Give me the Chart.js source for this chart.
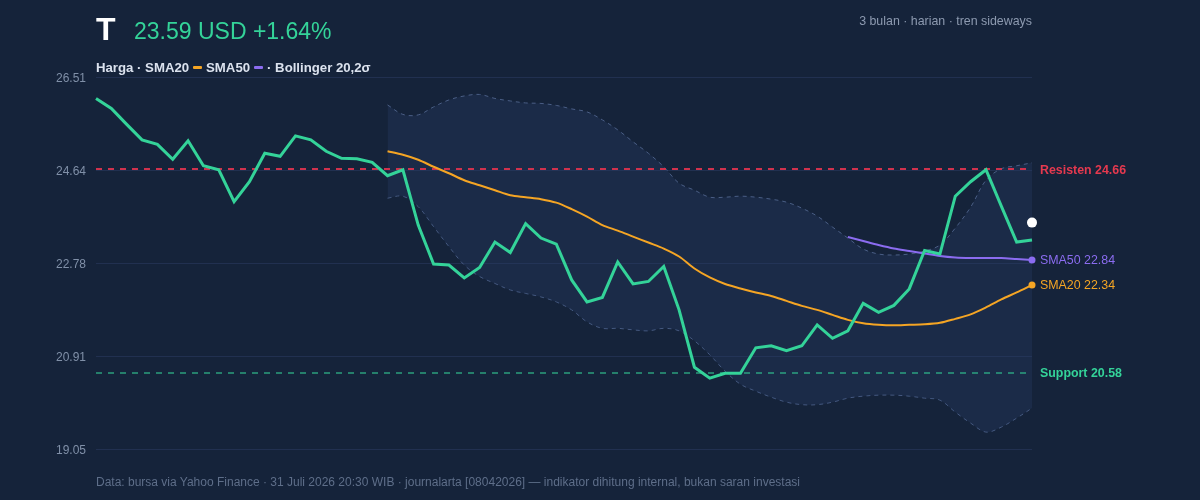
<!DOCTYPE html>
<html>
<head>
<meta charset="utf-8">
<script src="https://cdn.jsdelivr.net/npm/chart.js@4.4.1/dist/chart.umd.min.js"></script>
<style>
  html, body { margin: 0; padding: 0; background: #15233a; }
  body { width: 1200px; height: 500px; position: relative; overflow: hidden;
         font-family: "Liberation Sans", Arial, sans-serif; }
  #wrap { position: absolute; left: 0; top: 0; width: 1200px; height: 500px; }
  .abs { position: absolute; white-space: nowrap; line-height: 1; }
  #ticker { left: 96px; top: 13px; font-size: 32px; font-weight: bold; color: #ffffff; }
  #price { left: 134px; top: 20px; font-size: 23px; color: #34d399; }
  #sub { right: 168px; top: 15px; font-size: 12.4px; color: #8d9ab0; }
  #legend { left: 96px; top: 61px; font-size: 13.2px; font-weight: bold; color: #dbe2ee; }
  #legend .sw { display: inline-block; width: 9px; height: 3px; vertical-align: middle;
                margin: 0 4px 2px 4px; border-radius: 1px; }
  #foot { left: 96px; top: 476px; font-size: 12px; color: #5e6e89; }
</style>
</head>
<body>
<div id="wrap"><canvas id="chart" width="1200" height="500"></canvas></div>
<div class="abs" id="ticker">T</div>
<div class="abs" id="price">23.59 USD +1.64%</div>
<div class="abs" id="sub">3 bulan · harian · tren sideways</div>
<div class="abs" id="legend">Harga · SMA20<span class="sw" style="background:#f5a524"></span>SMA50<span class="sw" style="background:#8b6cf0"></span>· Bollinger 20,2σ</div>
<div class="abs" id="foot">Data: bursa via Yahoo Finance · 31 Juli 2026 20:30 WIB · journalarta [08042026] — indikator dihitung internal, bukan saran investasi</div>
<script>
// daily closes, 62 sessions
const PRICE = [
  26.08, 25.88, 25.56, 25.25, 25.16, 24.86, 25.23, 24.73, 24.65, 24.01,
  24.41, 24.98, 24.92, 25.33, 25.25, 25.02, 24.88, 24.87, 24.80, 24.53,
  24.65, 23.54, 22.76, 22.74, 22.48, 22.69, 23.20, 22.99, 23.57, 23.28,
  23.16, 22.44, 22.00, 22.09, 22.80, 22.36, 22.41, 22.71, 21.84, 20.69,
  20.47, 20.57, 20.57, 21.08, 21.12, 21.02, 21.12, 21.54, 21.27, 21.42,
  21.97, 21.79, 21.93, 22.26, 23.03, 22.96, 24.12, 24.41, 24.65, 23.92,
  23.20, 23.24
];

// SMA20 from session 19
const SMA20 = [
  25.02, 24.95, 24.85, 24.71, 24.58, 24.44, 24.34, 24.24, 24.14, 24.10,
  24.06, 23.99, 23.86, 23.71, 23.54, 23.43, 23.31, 23.19, 23.07, 22.91,
  22.67, 22.49, 22.36, 22.27, 22.19, 22.12, 22.02, 21.92, 21.84, 21.74,
  21.64, 21.57, 21.54, 21.53, 21.54, 21.55, 21.58, 21.66, 21.75, 21.89,
  22.05, 22.19, 22.34
];

// SMA50 from session 49
const SMA50 = [
  23.30, 23.22, 23.14, 23.07, 23.02, 22.97, 22.92, 22.89, 22.88, 22.88,
  22.88, 22.86, 22.84
];

// Bollinger 20,2 bands from session 19
const BB_UPPER = [
  25.95, 25.76, 25.75, 25.91, 26.05, 26.13, 26.16, 26.08, 26.03, 25.99,
  25.98, 25.94, 25.87, 25.81, 25.65, 25.45, 25.21, 24.98, 24.71, 24.38,
  24.24, 24.10, 24.10, 24.12, 24.10, 24.06, 24.00, 23.88, 23.72, 23.50,
  23.28, 23.06, 22.96, 22.94, 22.96, 23.02, 23.14, 23.48, 23.90, 24.44,
  24.67, 24.73, 24.79
];
const BB_LOWER = [
  24.08, 24.12, 23.91, 23.51, 23.11, 22.74, 22.51, 22.37, 22.24, 22.17,
  22.10, 22.00, 21.84, 21.60, 21.47, 21.47, 21.44, 21.42, 21.47, 21.42,
  21.22, 20.94, 20.61, 20.35, 20.21, 20.09, 19.99, 19.94, 19.94, 19.99,
  20.07, 20.11, 20.13, 20.13, 20.11, 20.07, 20.03, 19.79, 19.57, 19.39,
  19.49, 19.67, 19.87
];

const LAST_PRICE = 23.59;
const RESISTANCE = 24.66;
const SUPPORT = 20.58;

const Y_MIN = 19.05;
const Y_MAX = 26.51;
const TICK_VALUES = [19.05, 20.915, 22.78, 24.645, 26.51];
const TICK_LABELS = ["19.05", "20.91", "22.78", "24.64", "26.51"];

const C_PRICE = "#34d399";
const C_SMA20 = "#f5a524";
const C_SMA50 = "#8b6cf0";
const C_RES = "#e5394f";
const C_BAND = "#4b5f86";

const n = PRICE.length;
const labels = PRICE.map((_, i) => i);
const pad = (arr) => Array(n - arr.length).fill(null).concat(arr);
const lastOnly = (v) => Array(n - 1).fill(null).concat([v]);
const endDot = (r) => (ctx) => (ctx.dataIndex === n - 1 ? r : 0);

// dataset index of the upper band; reference lines go right after it (above the fill)
const BAND_IDX = 4;

const refLines = {
  id: "refLines",
  afterDatasetDraw(chart, args) {
    if (args.index !== BAND_IDX) return;
    const { ctx, chartArea: a, scales: { y } } = chart;
    const lines = [
      [RESISTANCE, "#d0324d", 2],
      [SUPPORT, "rgba(52,211,153,0.7)", 1.5],
    ];
    ctx.save();
    ctx.setLineDash([6, 6]);
    for (const [v, col, w] of lines) {
      const py = Math.round(y.getPixelForValue(v));
      ctx.lineWidth = w;
      ctx.strokeStyle = col;
      ctx.beginPath();
      ctx.moveTo(a.left, py);
      ctx.lineTo(a.right, py);
      ctx.stroke();
    }
    ctx.restore();
  },
  afterDraw(chart) {
    const { ctx, chartArea: a, scales: { y } } = chart;
    const tags = [
      ["Resisten " + RESISTANCE.toFixed(2), RESISTANCE, C_RES, true],
      ["SMA50 " + SMA50[SMA50.length - 1].toFixed(2), SMA50[SMA50.length - 1], C_SMA50, false],
      ["SMA20 " + SMA20[SMA20.length - 1].toFixed(2), SMA20[SMA20.length - 1], C_SMA20, false],
      ["Support " + SUPPORT.toFixed(2), SUPPORT, C_PRICE, true],
    ];
    ctx.save();
    ctx.textBaseline = "middle";
    ctx.textAlign = "left";
    for (const [t, v, col, bold] of tags) {
      ctx.font = (bold ? "bold " : "") + '12.4px "Liberation Sans", Arial, sans-serif';
      ctx.fillStyle = col;
      ctx.fillText(t, a.right + 8, y.getPixelForValue(v) + 1);
    }
    ctx.restore();
  },
};

new Chart(document.getElementById("chart"), {
  type: "line",
  data: {
    labels,
    datasets: [
      {
        label: "last",
        data: lastOnly(LAST_PRICE),
        showLine: false,
        pointRadius: 5,
        pointBackgroundColor: "#ffffff",
        pointBorderWidth: 0,
      },
      {
        label: "Harga",
        data: PRICE,
        borderColor: C_PRICE,
        borderWidth: 3,
        pointRadius: 0,
        tension: 0,
      },
      {
        label: "SMA50",
        data: pad(SMA50),
        borderColor: C_SMA50,
        borderWidth: 2,
        pointRadius: endDot(3.5),
        pointBackgroundColor: C_SMA50,
        pointBorderWidth: 0,
        tension: 0.3,
      },
      {
        label: "SMA20",
        data: pad(SMA20),
        borderColor: C_SMA20,
        borderWidth: 2,
        pointRadius: endDot(3.5),
        pointBackgroundColor: C_SMA20,
        pointBorderWidth: 0,
        tension: 0.3,
      },
      {
        label: "BB atas",
        data: pad(BB_UPPER),
        borderColor: C_BAND,
        borderWidth: 1,
        borderDash: [4, 4],
        pointRadius: 0,
        tension: 0.35,
        fill: "+1",
        backgroundColor: "rgba(40,60,100,0.35)",
      },
      {
        label: "BB bawah",
        data: pad(BB_LOWER),
        borderColor: C_BAND,
        borderWidth: 1,
        borderDash: [4, 4],
        pointRadius: 0,
        tension: 0.35,
        fill: false,
      },
    ],
  },
  options: {
    responsive: false,
    animation: false,
    devicePixelRatio: 1,
    layout: { padding: { left: 0, right: 168, top: 77, bottom: 51 } },
    plugins: { legend: { display: false }, tooltip: { enabled: false } },
    scales: {
      x: { display: false },
      y: {
        min: Y_MIN,
        max: Y_MAX,
        afterFit: (s) => { s.width = 96; },
        afterBuildTicks: (s) => { s.ticks = TICK_VALUES.map((v) => ({ value: v })); },
        border: { display: false },
        grid: { color: "#213050", lineWidth: 1, drawTicks: false },
        ticks: {
          padding: 10,
          labelOffset: 1.5,
          color: "#8090a8",
          font: { family: '"Liberation Sans", Arial, sans-serif', size: 12 },
          callback: (v, i) => TICK_LABELS[i],
        },
      },
    },
  },
  plugins: [refLines],
});
</script>
</body>
</html>
